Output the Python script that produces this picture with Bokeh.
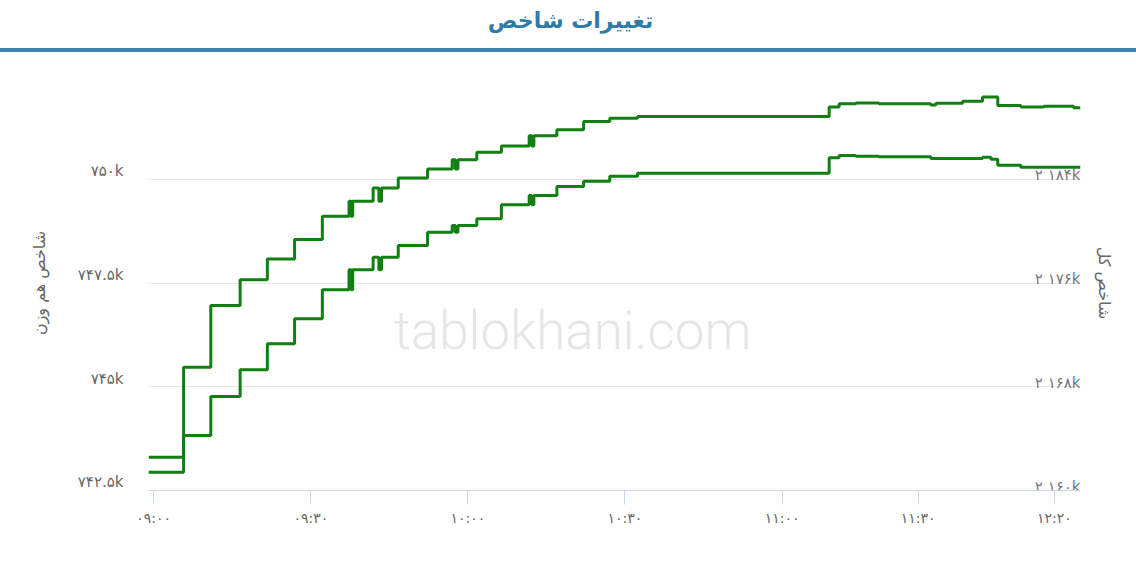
from bokeh.plotting import figure
from bokeh.models import Range1d, LinearAxis, FixedTicker, Label, Div
from bokeh.layouts import column
from bokeh.embed import file_html
from bokeh.resources import INLINE
from bokeh.core.properties import value

# ---------------- data ----------------
title_text = "تغییرات شاخص"
left_axis_title = "شاخص هم وزن"
right_axis_title = "شاخص کل"
watermark_text = "tablokhani.com"

# ordinal position of each reading (Highcharts ordinal axis, 09:00 = 0)
hw_t = [-1, 5.7, 10.9, 16.5, 21.7, 26.9, 32.2, 37.3, 37.7, 38.0, 41.9, 43.0, 43.5,
        46.7, 52.3, 57.0, 57.6, 58.1, 61.7, 66.4, 71.7, 72.2, 72.6, 77.0, 82.1,
        87.1, 92.4, 129.0, 130.9, 134.1, 138.5, 148.4, 149.4, 154.5, 158.3,
        161.2, 165.6, 170.0, 175.7, 177.0]
hw_v = [743300, 745470, 746960, 747580, 748080, 748550, 749110, 749470, 749110,
        749470, 749790, 749470, 749790, 750030, 750250, 750470, 750250, 750470,
        750650, 750800, 751050, 750800, 751050, 751190, 751390, 751470, 751510,
        751740, 751820, 751840, 751820, 751790, 751830, 751880, 751980, 751780,
        751740, 751760, 751720, 751720]

kol_t = [-1, 5.7, 10.9, 16.5, 21.7, 26.9, 32.2, 37.3, 37.7, 38.0, 41.9, 43.0, 43.5,
         46.7, 52.3, 57.0, 57.6, 58.1, 61.7, 66.4, 71.7, 72.2, 72.6, 77.0, 82.1,
         87.1, 92.4, 129.0, 130.9, 134.1, 138.5, 148.4, 158.3, 159.9, 161.2,
         165.6, 177.0]
kol_v = [2161410, 2164240, 2167250, 2169310, 2171310, 2173240, 2175480, 2177020,
         2175480, 2177020, 2177990, 2177020, 2177990, 2178890, 2179920, 2180430,
         2179920, 2180430, 2180950, 2182030, 2182750, 2182030, 2182750, 2183440,
         2183850, 2184240, 2184470, 2185650, 2185830, 2185780, 2185730, 2185600,
         2185700, 2185550, 2185080, 2184930, 2184930]

x_ticks = [0, 30, 60, 90, 120, 146, 172]
x_labels = ["۰۹:۰۰", "۰۹:۳۰", "۱۰:۰۰", "۱۰:۳۰", "۱۱:۰۰", "۱۱:۳۰", "۱۲:۲۰"]
left_ticks = [742500, 745000, 747500, 750000, 752500]
left_labels = ["۷۴۲.۵k", "۷۴۵k", "۷۴۷.۵k", "۷۵۰k", ""]
right_ticks = [2160000, 2168000, 2176000, 2184000, 2192000]
right_labels = ["۲ ۱۶۰k", "۲ ۱۶۸k", "۲ ۱۷۶k", "۲ ۱۸۴k", ""]

# ---------------- style ----------------
FONT = "DejaVu Sans"
GREY = "#666666"
LINE_GREEN = "#117f11"
AXIS_BLUE = "#ccd6eb"
TITLE_BLUE = "#2d7ca8"
RULE_BLUE = "#3a83ae"

W = 1136

# ---------------- header (title) ----------------
h = figure(width=W, height=48, x_range=Range1d(0, 1), y_range=Range1d(0, 1),
           x_axis_type=None, y_axis_type=None, output_backend="svg",
           toolbar_location=None, min_border=0, outline_line_color=None)
# the header frame is aligned with the chart frame; shift to the page centre
h.text(x=[0.5], y=[0.58], text=[title_text], text_align="center",
       text_baseline="middle", x_offset=-44, text_font=value(FONT),
       text_font_style="bold", text_font_size="22px", text_color=TITLE_BLUE)

# full-width blue rule under the title
rule = Div(text="", width=W, height=4, margin=0,
           styles={"background-color": RULE_BLUE, "width": f"{W}px", "height": "4px"})

# ---------------- main chart ----------------
p = figure(width=W, height=508,
           x_range=Range1d(hw_t[0], hw_t[-1]),
           y_range=Range1d(left_ticks[0], left_ticks[-1]),
           output_backend="svg", toolbar_location=None,
           min_border_left=148, min_border_right=56,
           min_border_top=23, min_border_bottom=70,
           outline_line_color=None)
p.extra_y_ranges = {"right": Range1d(right_ticks[0], right_ticks[-1])}

# grid
p.xgrid.visible = False
p.ygrid.ticker = FixedTicker(ticks=left_ticks)
p.ygrid.grid_line_color = "#e6e6e6"
p.ygrid.grid_line_width = 1

# x axis
xa = p.xaxis[0]
xa.ticker = FixedTicker(ticks=x_ticks)
xa.major_label_overrides = {t: l for t, l in zip(x_ticks, x_labels)}
xa.axis_line_color = AXIS_BLUE
xa.major_tick_line_color = AXIS_BLUE
xa.major_tick_out = 14
xa.major_tick_in = 0
xa.minor_tick_line_color = None
xa.major_label_standoff = 5
xa.major_label_text_font = FONT
xa.major_label_text_font_size = "14px"
xa.major_label_text_color = GREY

# left axis: labels sit a little above their grid lines
shift = 193
ya = p.yaxis[0]
ya.ticker = FixedTicker(ticks=[t + shift for t in left_ticks[:-1]])
ya.major_label_overrides = {t + shift: l for t, l in zip(left_ticks[:-1], left_labels[:-1])}
ya.axis_line_color = None
ya.major_tick_line_color = None
ya.minor_tick_line_color = None
ya.major_tick_out = 0
ya.major_tick_in = 0
ya.major_label_standoff = 25
ya.major_label_text_font = FONT
ya.major_label_text_font_size = "15px"
ya.major_label_text_color = GREY
ya.axis_label = left_axis_title
ya.axis_label_text_font = FONT
ya.axis_label_text_font_style = "normal"
ya.axis_label_text_font_size = "16px"
ya.axis_label_text_color = GREY
ya.axis_label_standoff = 26

# right axis (title only; its labels are drawn inside the plot)
ra = LinearAxis(y_range_name="right", ticker=FixedTicker(ticks=[]),
                axis_label=right_axis_title)
ra.axis_line_color = None
ra.major_tick_line_color = None
ra.minor_tick_line_color = None
ra.axis_label_text_font = FONT
ra.axis_label_text_font_style = "normal"
ra.axis_label_text_font_size = "16px"
ra.axis_label_text_color = GREY
ra.axis_label_standoff = 14
p.add_layout(ra, "right")

# watermark
p.add_layout(Label(x=80, y=746355, text=watermark_text, text_align="center",
                   text_baseline="alphabetic", text_font="'Roboto Light', Roboto",
                   text_font_size="53px", text_color="#e6e6e6", level="underlay"))

# right tick labels, inside the plot area
p.text(x=[hw_t[-1]] * (len(right_ticks) - 1), y=right_ticks[:-1],
       text=right_labels[:-1], y_range_name="right", text_align="right",
       text_baseline="alphabetic", y_offset=-4, text_font=value(FONT),
       text_font_size="15px", text_color="#777777")

# series
p.step(x=hw_t, y=hw_v, mode="after", line_color=LINE_GREEN, line_width=3)
p.step(x=kol_t, y=kol_v, mode="after", line_color=LINE_GREEN, line_width=3,
       y_range_name="right")

layout = column(h, rule, p)
open("out.html", "w").write(file_html(layout, INLINE))
